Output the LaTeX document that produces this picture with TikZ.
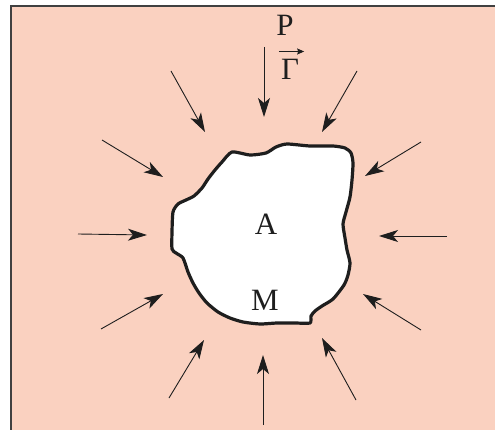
\documentclass[tikz,border=0pt]{standalone}
\usepackage{fontspec}
\setmainfont{Liberation Serif}
\usetikzlibrary{arrows.meta}
\definecolor{peach}{RGB}{250,209,192}
\definecolor{ink}{RGB}{30,30,30}
\tikzset{
  arr/.style={ink, line width=0.9pt, -{Stealth[length=19pt,width=12pt,inset=5pt]}},
  vecarr/.style={ink, line width=1pt, -{Stealth[length=7pt,width=6pt,inset=1pt]}},
  lbl/.style={font=\fontsize{31}{33}\selectfont, inner sep=0pt, text=ink, anchor=base}
}
\begin{document}
\begin{tikzpicture}[x=1pt,y=-1pt]
\useasboundingbox (0,0) rectangle (495,430);
\fill[white] (0,0) rectangle (495,430);
\fill[peach] (11,6) rectangle (497,432);
\draw[ink!85, line width=1.5pt] (11,432) -- (11,6) -- (497,6);
% cavity
\draw[ink, line width=3.2pt, fill=white, line join=round]
  plot[smooth cycle, tension=0.4] coordinates {
   (232,152) (250,155) (266,153) (276,147) (287,144) (310,146) (333,146) (345,148)
   (351,153) (353,163) (352,180) (350,197) (346,212) (343,224) (345,238) (347,250)
   (350,263) (348,275) (344,285) (333,299) (322,306) (315,311) (311,316) (310,323)
   (295,323) (277,323) (260,324) (243,322) (230,318) (218,312) (207,303) (199,293)
   (193,283) (188,272) (183,258) (176,253) (172,249) (172,232) (173,212) (178,204)
   (186,200) (194,196) (202,188) (208,179) (215,170) (222,162)
  };
\node[lbl] (A) at (266,235) {A};
\node[lbl] (M) at (265,310) {M};
\node[lbl] (P) at (285,36) {P};
\node[lbl] (G) at (290,80) {Γ};
\draw[vecarr] ([shift={(-2,-8)}]G.north west) -- ([shift={(5,-8)}]G.north east);
% arrows
\coordinate (s1) at (264,47);  \coordinate (e1) at (264,117);
\coordinate (s2) at (171,71);  \coordinate (e2) at (205,132);
\coordinate (s3) at (357,71);  \coordinate (e3) at (322,132);
\coordinate (s4) at (102,140); \coordinate (e4) at (163,177);
\coordinate (s5) at (421,142); \coordinate (e5) at (365,176);
\coordinate (s6) at (78,234);  \coordinate (e6) at (147,235);
\coordinate (s7) at (447,236); \coordinate (e7) at (379,236);
\coordinate (s8) at (101,329); \coordinate (e8) at (163,294);
\coordinate (s9) at (421,330); \coordinate (e9) at (363,294);
\coordinate (s10) at (169,398); \coordinate (e10) at (204,340);
\coordinate (s11) at (263,425); \coordinate (e11) at (263,355);
\coordinate (s12) at (356,400); \coordinate (e12) at (322,338);
\foreach \i in {1,...,12} { \draw[arr] (s\i) -- (e\i); }
\end{tikzpicture}
\end{document}
